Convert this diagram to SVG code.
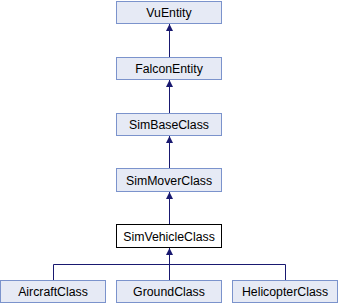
<svg xmlns="http://www.w3.org/2000/svg" width="338" height="304" viewBox="0 0 338 304">
  <defs>
    <marker id="arrow" markerWidth="8" markerHeight="8" refX="7" refY="3.5" orient="auto" markerUnits="userSpaceOnUse">
      <path d="M0,0 L7,3.5 L0,7 Z" fill="#191970"/>
    </marker>
    <style>
      .node rect { fill: #e6eaf5; stroke: #7b93cc; stroke-width: 1; }
      .node.current rect { fill: #ffffff; stroke: #000000; }
      .node text { font-family: "Liberation Sans", Arial, sans-serif; font-size: 12.3px; fill: #000000; text-anchor: middle; }
      .edges path { fill: none; stroke: #191970; stroke-width: 1; }
    </style>
  </defs>
  <rect x="0" y="0" width="338" height="304" fill="#ffffff"/>

  <g class="edges">
    <path d="M169.5,57 V24" marker-end="url(#arrow)"/>
    <path d="M169.5,113 V80" marker-end="url(#arrow)"/>
    <path d="M169.5,168 V136" marker-end="url(#arrow)"/>
    <path d="M169.5,224 V192" marker-end="url(#arrow)"/>
    <path d="M53.5,280 V264.5 H285.5 V280"/>
    <path d="M169.5,280 V248" marker-end="url(#arrow)"/>
  </g>

  <g id="VuEntity" class="node">
    <rect x="116.5" y="1.5" width="105" height="22"/>
    <text x="169" y="17">VuEntity</text>
  </g>
  <g id="FalconEntity" class="node">
    <rect x="116.5" y="57.5" width="105" height="22"/>
    <text x="169" y="73">FalconEntity</text>
  </g>
  <g id="SimBaseClass" class="node">
    <rect x="116.5" y="113.5" width="105" height="22"/>
    <text x="169" y="129">SimBaseClass</text>
  </g>
  <g id="SimMoverClass" class="node">
    <rect x="116.5" y="168.5" width="105" height="23"/>
    <text x="169" y="184.5">SimMoverClass</text>
  </g>
  <g id="SimVehicleClass" class="node current">
    <rect x="116.5" y="224.5" width="105" height="23"/>
    <text x="169" y="240.5">SimVehicleClass</text>
  </g>
  <g id="AircraftClass" class="node">
    <rect x="0.5" y="280.5" width="105" height="22"/>
    <text x="53" y="296">AircraftClass</text>
  </g>
  <g id="GroundClass" class="node">
    <rect x="116.5" y="280.5" width="105" height="22"/>
    <text x="169" y="296">GroundClass</text>
  </g>
  <g id="HelicopterClass" class="node">
    <rect x="232.5" y="280.5" width="105" height="22"/>
    <text x="285" y="296">HelicopterClass</text>
  </g>
</svg>
